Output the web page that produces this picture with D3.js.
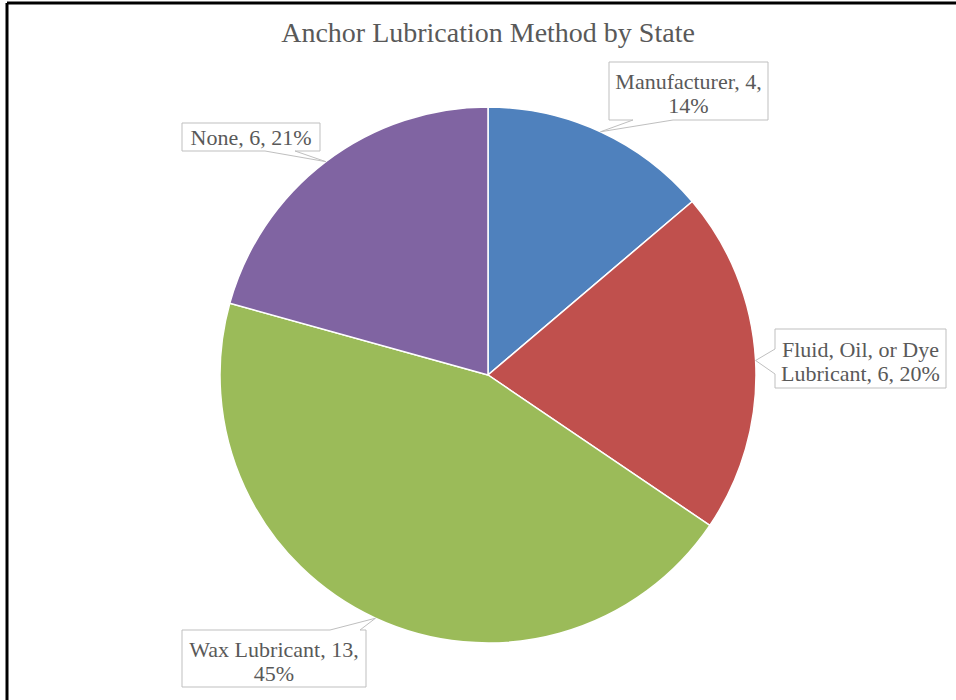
<!DOCTYPE html>
<html>
<head>
<meta charset="utf-8">
<script src="https://cdn.jsdelivr.net/npm/d3@7"></script>
<style>
html,body{margin:0;padding:0;background:#fff;}
svg{display:block;}
</style>
</head>
<body>
<svg id="chart" width="956" height="700"></svg>
<script>
// ---- data ----
const categories = ["Manufacturer", "Fluid, Oil, or Dye Lubricant", "Wax Lubricant", "None"];
const values = [4, 6, 13, 6];
const percentLabels = ["14%", "20%", "45%", "21%"];
const labelLines = [
  ["Manufacturer, 4,", "14%"],
  ["Fluid, Oil, or Dye", "Lubricant, 6, 20%"],
  ["Wax Lubricant, 13,", "45%"],
  ["None, 6, 21%"]
];
const colors = ["#4F81BD", "#C0504D", "#9BBB59", "#8064A2"];
const title = "Anchor Lubrication Method by State";

// ---- layout ----
const W = 956, H = 700;
const cx = 488, cy = 375, R = 268;
const svg = d3.select("#chart");

// frame (only top and left visible)
svg.append("line").attr("x1", 7).attr("y1", 3).attr("x2", W).attr("y2", 3)
  .attr("stroke", "#000").attr("stroke-width", 3);
svg.append("line").attr("x1", 7).attr("y1", 3).attr("x2", 7).attr("y2", H)
  .attr("stroke", "#000").attr("stroke-width", 3);

svg.append("text").attr("x", 488).attr("y", 42)
  .attr("text-anchor", "middle")
  .attr("font-family", "Liberation Serif, Times New Roman, serif")
  .attr("font-size", 28).attr("fill", "#595959").text(title);

const data = categories.map((c, i) => ({cat: c, value: values[i], pct: percentLabels[i], lines: labelLines[i], color: colors[i]}));
const pie = d3.pie().value(d => d.value).sort(null).startAngle(0).endAngle(2 * Math.PI);
const arcs = pie(data);
const arcGen = d3.arc().innerRadius(0).outerRadius(R);

const g = svg.append("g").attr("transform", `translate(${cx},${cy})`);
g.selectAll("path").data(arcs).join("path")
  .attr("d", arcGen)
  .attr("fill", d => d.data.color)
  .attr("stroke", "#fff").attr("stroke-width", 1.5);

// callout boxes: rect + wedge side + wedge base (offsets along side)
const boxes = [
  {x: 609, y: 62, w: 159, h: 58, side: "bottom", b0: 24, b1: 64},
  {x: 775, y: 329, w: 171, h: 59, side: "left", b0: 20, b1: 45},
  {x: 182, y: 630, w: 184, h: 57, side: "top", b0: 148, b1: 178},
  {x: 182, y: 123, w: 138, h: 28, side: "bottom", b0: 83, b1: 113}
];

function calloutPath(b, tip) {
  const {x, y, w, h} = b;
  const p = [];
  p.push([x, y]);
  if (b.side === "top") { p.push([x + b.b0, y], tip, [x + b.b1, y]); }
  p.push([x + w, y]);
  p.push([x + w, y + h]);
  if (b.side === "bottom") { p.push([x + b.b1, y + h], tip, [x + b.b0, y + h]); }
  p.push([x, y + h]);
  if (b.side === "left") { p.push([x, y + b.b1], tip, [x, y + b.b0]); }
  return "M" + p.map(q => q.join(",")).join("L") + "Z";
}

const lab = svg.append("g");
arcs.forEach((a, i) => {
  const mid = (a.startAngle + a.endAngle) / 2;
  const tip = [cx + R * Math.sin(mid), cy - R * Math.cos(mid)];
  const b = boxes[i];
  lab.append("path").attr("d", calloutPath(b, tip))
    .attr("fill", "#fff").attr("stroke", "#BFBFBF").attr("stroke-width", 1);
  const lines = a.data.lines;
  const lh = 24;
  const startY = lines.length === 1 ? b.y + b.h / 2 + 8 : b.y + b.h / 2 - 2;
  lines.forEach((t, j) => {
    lab.append("text").attr("x", b.x + b.w / 2).attr("y", startY + j * lh)
      .attr("text-anchor", "middle")
      .attr("font-family", "Liberation Serif, Times New Roman, serif")
      .attr("font-size", 22).attr("fill", "#595959").text(t);
  });
});
</script>
</body>
</html>
